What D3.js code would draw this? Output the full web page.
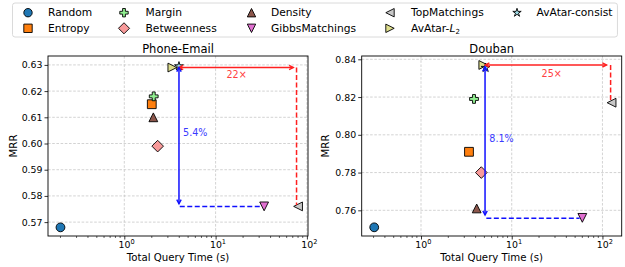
<!DOCTYPE html>
<html>
<head>
<meta charset="utf-8">
<script src="https://cdn.jsdelivr.net/npm/d3@7"></script>
<style>
  body { margin: 0; background: #fff; }
  svg { display: block; font-family: "DejaVu Sans", sans-serif; }
</style>
</head>
<body>
<script>
// --- data -----------------------------------------------------------------
const methods = ["Random", "Entropy", "Margin", "Betweenness", "Density",
                 "GibbsMatchings", "TopMatchings", "AvAtar-L2", "AvAtar-consist"]
const shapes = ["circle", "square", "plus", "diamond", "triUp",
                "triDown", "triLeft", "triRight", "star"]
const colors = ["#1f77b4", "#ff7f0e", "#90ee90", "#f89a9a", "#8c564b",
                "#e070d0", "#c8c8c8", "#dede8c", "#9edae5"]

const phoneTime = [0.20, 2.0, 2.1, 2.32, 2.08, 34, 80, 3.36, 3.97]
const phoneMRR  = [0.568, 0.615, 0.618, 0.599, 0.610, 0.576, 0.576, 0.629, 0.6295]
const doubanTime = [0.305, 3.38, 3.84, 4.62, 4.11, 60, 126, 4.86, 5.15]
const doubanMRR  = [0.751, 0.791, 0.819, 0.780, 0.761, 0.756, 0.817, 0.837, 0.8355]

const phoneYTicks  = [0.57, 0.58, 0.59, 0.60, 0.61, 0.62, 0.63]
const doubanYTicks = [0.76, 0.78, 0.80, 0.82, 0.84]
const xTicks = [1, 10, 100]

// annotations (data units)
const phoneSpeed = [[3.97, 0.629], [71, 0.629]]
const phoneSpeedDrop = [[77, 0.629], [77, 0.5765]]
const phoneGain = [[3.97, 0.629], [3.97, 0.577]]
const phoneGainRun = [[4.05, 0.576], [31, 0.576]]
const phoneLabels = [["22×", 17, 0.6262, "red"], ["5.4%", 4.4, 0.6042, "blue"]]

const doubanSpeed = [[5.1, 0.837], [111, 0.837]]
const doubanSpeedDrop = [[123, 0.837], [123, 0.8175]]
const doubanGain = [[5.08, 0.836], [5.08, 0.7575]]
const doubanGainRun = [[5.25, 0.7558], [56, 0.7558]]
const doubanLabels = [["25×", 27.6, 0.8326, "red"], ["8.1%", 5.66, 0.7978, "blue"]]

// --- helpers --------------------------------------------------------------
const W = 625, H = 267
const S = 8.8

function markerPath(kind, s) {
  const h = s / 2
  const poly = pts => "M" + pts.map(p => p.map(v => v.toFixed(2)).join(",")).join("L") + "Z"
  switch (kind) {
    case "circle": return d3.symbol(d3.symbolCircle, Math.PI * h * h)()
    case "square": return poly([[-h, -h], [h, -h], [h, h], [-h, h]])
    case "plus": {
      const a = s / 6
      return poly([[-a, -3 * a], [a, -3 * a], [a, -a], [3 * a, -a], [3 * a, a], [a, a],
                   [a, 3 * a], [-a, 3 * a], [-a, a], [-3 * a, a], [-3 * a, -a], [-a, -a]])
    }
    case "diamond": { const r = h * 1.32; return poly([[0, -r], [r, 0], [0, r], [-r, 0]]) }
    case "triUp": return poly([[0, -h], [h, h], [-h, h]])
    case "triDown": return poly([[0, h], [h, -h], [-h, -h]])
    case "triLeft": return poly([[-h, 0], [h, -h], [h, h]])
    case "triRight": return poly([[h, 0], [-h, -h], [-h, h]])
    case "star": {
      const pts = []
      for (let i = 0; i < 10; i++) {
        const r = i % 2 ? h * 0.381966 : h * 1.05
        const a = -Math.PI / 2 + i * Math.PI / 5
        pts.push([r * Math.cos(a), r * Math.sin(a)])
      }
      return poly(pts)
    }
  }
}

const svg = d3.select("body").append("svg")
  .attr("width", W).attr("height", H)

// --- panels ---------------------------------------------------------------
const panels = [
  { title: "Phone-Email", time: phoneTime, mrr: phoneMRR, yTicks: phoneYTicks,
    xDomain: [0.146, 102.8], yDomain: [0.5647, 0.6334],
    left: 48, right: 308, top: 56, bottom: 236, ylabelX: 13.5,
    speed: phoneSpeed, drop: phoneSpeedDrop, gain: phoneGain, run: phoneGainRun, labels: phoneLabels },
  { title: "Douban", time: doubanTime, mrr: doubanMRR, yTicks: doubanYTicks,
    xDomain: [0.222, 163], yDomain: [0.7464, 0.84175],
    left: 361.7, right: 621.7, top: 56, bottom: 236, ylabelX: 325,
    speed: doubanSpeed, drop: doubanSpeedDrop, gain: doubanGain, run: doubanGainRun, labels: doubanLabels }
]

function arrowHead(g, x, y, dx, dy, color) {
  // small open head pointing in direction (dx,dy)
  const L = 4.2, Wd = 2.2
  const px = -dy, py = dx
  g.append("path")
    .attr("d", `M${x - dx * L + px * Wd},${y - dy * L + py * Wd}L${x},${y}L${x - dx * L - px * Wd},${y - dy * L - py * Wd}`)
    .attr("fill", "none").attr("stroke", color).attr("stroke-width", 1.4)
}

panels.forEach(p => {
  const x = d3.scaleLog().domain(p.xDomain).range([p.left, p.right])
  const y = d3.scaleLinear().domain(p.yDomain).range([p.bottom, p.top])
  const g = svg.append("g")

  // grid
  const grid = g.append("g").attr("stroke", "#c4c4c4").attr("stroke-width", 0.75)
    .attr("stroke-dasharray", "2.6,1.6")
  grid.selectAll(".gx").data(xTicks).join("line")
    .attr("x1", d => x(d)).attr("x2", d => x(d)).attr("y1", p.top).attr("y2", p.bottom)
  grid.selectAll(".gy").data(p.yTicks).join("line")
    .attr("y1", d => y(d)).attr("y2", d => y(d)).attr("x1", p.left).attr("x2", p.right)

  // axes
  const ya = g.append("g").attr("transform", `translate(${p.left},0)`)
    .call(d3.axisLeft(y).tickValues(p.yTicks).tickSize(3.5).tickPadding(2).tickFormat(d3.format(".2f")))
  ya.select(".domain").remove()
  ya.selectAll("text").attr("font-size", 9.4).attr("fill", "#000").attr("font-family", "DejaVu Sans")
  ya.selectAll("line").attr("stroke-width", 0.8)

  const minor = []
  for (let e = -1; e <= 2; e++) for (let m = 2; m <= 9; m++) {
    const v = m * Math.pow(10, e)
    if (v > p.xDomain[0] && v < p.xDomain[1]) minor.push(v)
  }
  g.append("g").selectAll("line").data(minor).join("line")
    .attr("x1", d => x(d)).attr("x2", d => x(d)).attr("y1", p.bottom).attr("y2", p.bottom + 2)
    .attr("stroke", "#000").attr("stroke-width", 0.6)

  const xa = g.append("g").attr("transform", `translate(0,${p.bottom})`)
    .call(d3.axisBottom(x).tickValues(xTicks).tickSize(3.5).tickPadding(1.5).tickFormat(""))
  xa.select(".domain").remove()
  xa.selectAll("line").attr("stroke-width", 0.8)
  xa.selectAll(".tick text").each(function (d) {
    const t = d3.select(this).attr("font-size", 9.4).attr("fill", "#000")
      .attr("font-family", "DejaVu Sans").attr("dx", "0.2em")
    t.append("tspan").text("10")
    t.append("tspan").attr("dy", -3.8).attr("font-size", 6.6).text(Math.round(Math.log10(d)))
  })

  // markers
  const pts = methods.map((m, i) => ({ i, t: p.time[i], v: p.mrr[i] }))
  g.append("g").selectAll("path").data(pts).join("path")
    .attr("d", d => markerPath(shapes[d.i], S))
    .attr("transform", d => `translate(${x(d.t)},${y(d.v)})`)
    .attr("fill", d => colors[d.i])
    .attr("stroke", "#000").attr("stroke-width", 0.9)

  // annotations
  const a = g.append("g")
  const red = "#ff2020", blue = "#1010ff"
  const P = c => [x(c[0]), y(c[1])]
  const [s0, s1] = p.speed.map(P)
  a.append("line").attr("x1", s0[0]).attr("y1", s0[1]).attr("x2", s1[0]).attr("y2", s1[1])
    .attr("stroke", red).attr("stroke-width", 1.5)
  arrowHead(a, s1[0], s1[1], 1, 0, red)
  arrowHead(a, s0[0], s0[1], -1, 0, red)
  const [d0, d1] = p.drop.map(P)
  a.append("line").attr("x1", d0[0]).attr("y1", d0[1]).attr("x2", d1[0]).attr("y2", d1[1])
    .attr("stroke", red).attr("stroke-width", 1.5).attr("stroke-dasharray", "5,2.5")
  const [g0, g1] = p.gain.map(P)
  a.append("line").attr("x1", g0[0]).attr("y1", g0[1]).attr("x2", g1[0]).attr("y2", g1[1])
    .attr("stroke", blue).attr("stroke-width", 1.5)
  arrowHead(a, g0[0], g0[1], 0, -1, blue)
  arrowHead(a, g1[0], g1[1], 0, 1, blue)
  const [r0, r1] = p.run.map(P)
  a.append("line").attr("x1", r0[0]).attr("y1", r0[1]).attr("x2", r1[0]).attr("y2", r1[1])
    .attr("stroke", blue).attr("stroke-width", 1.5).attr("stroke-dasharray", "5,2.5")

  p.labels.forEach(([txt, tx, ty, c]) => {
    a.append("text").attr("x", x(tx)).attr("y", y(ty)).attr("dy", "0.35em")
      .attr("text-anchor", c === "red" ? "middle" : "start")
      .attr("font-size", 9.6).attr("fill", c === "red" ? "#ff4040" : "#3a3aff")
      .text(txt)
  })

  // frame
  g.append("rect").attr("x", p.left).attr("y", p.top)
    .attr("width", p.right - p.left).attr("height", p.bottom - p.top)
    .attr("fill", "none").attr("stroke", "#000").attr("stroke-width", 0.9)

  // titles and labels
  g.append("text").attr("x", (p.left + p.right) / 2).attr("y", 52.5)
    .attr("text-anchor", "middle").attr("font-size", 11.5).text(p.title)
  g.append("text").attr("x", (p.left + p.right) / 2).attr("y", 260.5)
    .attr("text-anchor", "middle").attr("font-size", 10.2).text("Total Query Time (s)")
  g.append("text").attr("transform", `translate(${p.ylabelX},${(p.top + p.bottom) / 2}) rotate(-90)`)
    .attr("text-anchor", "middle").attr("dy", "0.35em").attr("font-size", 10.2).text("MRR")
})

// --- legend ---------------------------------------------------------------
const legMarkerX = [28, 124, 251.5, 390, 517]
const legTextX = [48, 145.5, 271, 411, 536.5]
const legRowY = [12.7, 28.3]
const leg = svg.append("g")
const legBox = leg.append("rect").attr("x", 12.5).attr("y", 3).attr("height", 34)
  .attr("rx", 2.5).attr("fill", "#fff").attr("stroke", "#d6d6d6").attr("stroke-width", 0.9)
let maxRight = 0
methods.forEach((m, i) => {
  const col = Math.floor(i / 2), row = i % 2
  leg.append("path").attr("d", markerPath(shapes[i], 8.4))
    .attr("transform", `translate(${legMarkerX[col]},${legRowY[row]})`)
    .attr("fill", colors[i]).attr("stroke", "#000").attr("stroke-width", 0.9)
  const t = leg.append("text").attr("x", legTextX[col]).attr("y", legRowY[row])
    .attr("dy", "0.35em").attr("font-size", 10.7)
  if (m === "AvAtar-L2") {
    t.append("tspan").text("AvAtar-")
    t.append("tspan").attr("font-style", "italic").text("L")
    t.append("tspan").attr("font-size", 7).attr("dy", 2).text("2")
  } else t.text(m)
  maxRight = Math.max(maxRight, legTextX[col] + t.node().getComputedTextLength())
})
legBox.attr("width", maxRight + 5 - 12.5)
</script>
</body>
</html>
